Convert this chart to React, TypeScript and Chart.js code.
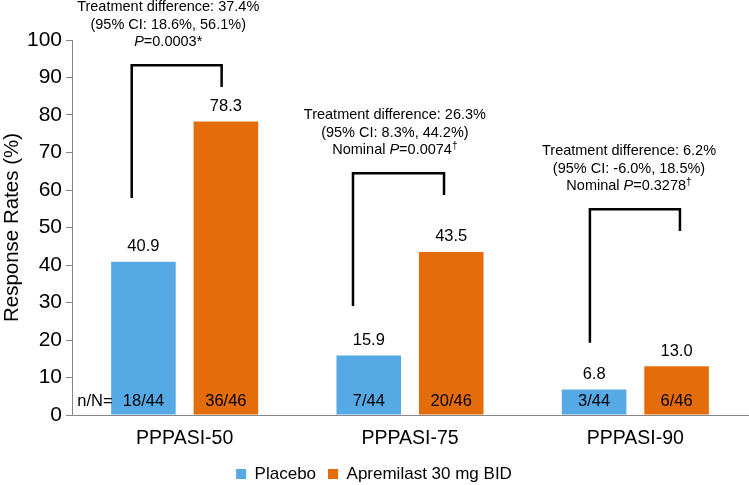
import { useEffect, useRef } from 'react';
import { Chart, registerables } from 'chart.js';

Chart.register(...registerables);

const FONT = '"Liberation Sans", Arial, Helvetica, sans-serif';

const categories = ['PPPASI-50', 'PPPASI-75', 'PPPASI-90'];
const seriesNames = ['Placebo', 'Apremilast 30 mg BID'];
const placeboValues = [40.9, 15.9, 6.8];
const apremilastValues = [78.3, 43.5, 13.0];
const placeboCounts = ['18/44', '7/44', '3/44'];
const apremilastCounts = ['36/46', '20/46', '6/46'];
const countsPrefix = 'n/N=';
const yMin = 0;
const yMax = 100;
const yStep = 10;

const diffLines = ['Treatment difference: 37.4%', 'Treatment difference: 26.3%', 'Treatment difference: 6.2%'];
const ciLines = ['(95% CI: 18.6%, 56.1%)', '(95% CI: 8.3%, 44.2%)', '(95% CI: -6.0%, 18.5%)'];
const pPrefix = ['', 'Nominal ', 'Nominal '];
const pValues = ['=0.0003*', '=0.0074', '=0.3278'];
const pMarks = ['', '\u2020', '\u2020'];

// bracket geometry in axis units (value axis) and category offsets
const bracketTop = [93.3, 64.5, 54.9];
const bracketLeftEnd = [57.9, 29.1, 19.3];
const bracketRightEnd = [87.5, 58.7, 49.1];
const bracketLeftX = [-0.235, -0.253, -0.2016];
const bracketRightX = [0.164, 0.151, 0.198];
const noteX = [-0.073, -0.067, -0.028];

const placeboColor = '#55A9E4';
const apremilastColor = '#E46C0A';

type Seg = { text: string; italic?: boolean; sup?: boolean };

function drawSegments(ctx: CanvasRenderingContext2D, segs: Seg[], cx: number, cy: number, size: number) {
  const fontFor = (s: Seg) => `${s.italic ? 'italic ' : ''}${s.sup ? size * 0.7 : size}px ${FONT}`;
  let total = 0;
  for (const s of segs) {
    ctx.font = fontFor(s);
    total += ctx.measureText(s.text).width;
  }
  let x = cx - total / 2;
  ctx.textAlign = 'left';
  ctx.textBaseline = 'middle';
  for (const s of segs) {
    ctx.font = fontFor(s);
    ctx.fillText(s.text, x, s.sup ? cy - size * 0.3 : cy);
    x += ctx.measureText(s.text).width;
  }
}

const annotationPlugin = {
  id: 'annotations',
  afterDatasetsDraw(chart: any) {
    const ctx: CanvasRenderingContext2D = chart.ctx;
    const xs = chart.scales.x;
    const ys = chart.scales.y;
    const catW = xs.getPixelForValue(1) - xs.getPixelForValue(0);
    ctx.save();
    ctx.fillStyle = '#000';

    // brackets and notes
    categories.forEach((_, i) => {
      const c = xs.getPixelForValue(i);
      const lx = c + bracketLeftX[i] * catW;
      const rx = c + bracketRightX[i] * catW;
      const ty = ys.getPixelForValue(bracketTop[i]);
      ctx.beginPath();
      ctx.lineWidth = 2.5;
      ctx.strokeStyle = '#000';
      ctx.lineJoin = 'miter';
      ctx.moveTo(lx, ys.getPixelForValue(bracketLeftEnd[i]));
      ctx.lineTo(lx, ty);
      ctx.lineTo(rx, ty);
      ctx.lineTo(rx, ys.getPixelForValue(bracketRightEnd[i]));
      ctx.stroke();

      const tx = c + noteX[i] * catW;
      const size = 14.5;
      drawSegments(ctx, [{ text: diffLines[i] }], tx, ty - 58, size);
      drawSegments(ctx, [{ text: ciLines[i] }], tx, ty - 40.5, size);
      const segs: Seg[] = [];
      if (pPrefix[i]) segs.push({ text: pPrefix[i] });
      segs.push({ text: 'P', italic: true });
      segs.push({ text: pValues[i] });
      if (pMarks[i]) segs.push({ text: pMarks[i], sup: true });
      drawSegments(ctx, segs, tx, ty - 23, size);
    });

    // value labels and counts
    const counts = [placeboCounts, apremilastCounts];
    const zeroY = ys.getPixelForValue(0);
    chart.data.datasets.forEach((ds: any, di: number) => {
      const meta = chart.getDatasetMeta(di);
      meta.data.forEach((bar: any, i: number) => {
        ctx.font = `16.5px ${FONT}`;
        ctx.textAlign = 'center';
        ctx.textBaseline = 'middle';
        ctx.fillText(Number(ds.data[i]).toFixed(1), bar.x, bar.y - 15);
        ctx.fillText(counts[di][i], bar.x, zeroY - 14);
      });
    });
    const first = chart.getDatasetMeta(0).data[0];
    ctx.font = `16.5px ${FONT}`;
    ctx.textAlign = 'right';
    ctx.textBaseline = 'middle';
    ctx.fillText(countsPrefix, first.x - first.width / 2 + 1.5, zeroY - 14);
    ctx.restore();
  },
};

export default function App() {
  const ref = useRef<HTMLCanvasElement>(null);
  useEffect(() => {
    if (!ref.current) return;
    const chart = new Chart(ref.current, {
      type: 'bar',
      data: {
        labels: categories,
        datasets: [
          {
            label: seriesNames[0],
            data: placeboValues,
            backgroundColor: placeboColor,
            borderWidth: 0,
            categoryPercentage: 0.732,
            barPercentage: 0.783,
          },
          {
            label: seriesNames[1],
            data: apremilastValues,
            backgroundColor: apremilastColor,
            borderWidth: 0,
            categoryPercentage: 0.732,
            barPercentage: 0.783,
          },
        ],
      },
      options: {
        responsive: false,
        animation: false,
        layout: { padding: { top: 40, right: 1, bottom: -7.5, left: 0 } },
        plugins: {
          legend: {
            position: 'bottom',
            labels: {
              boxWidth: 10,
              boxHeight: 10,
              padding: 12,
              color: '#000',
              font: { size: 17, family: FONT },
            },
          },
          tooltip: { enabled: false },
        },
        scales: {
          x: {
            grid: { display: false, drawTicks: false },
            border: { display: true, color: '#868686', width: 1 },
            ticks: { color: '#000', padding: 12, font: { size: 19.5, family: FONT } },
            afterFit: (s: any) => {
              s.height = 38.5;
            },
          },
          y: {
            min: yMin,
            max: yMax,
            ticks: { stepSize: yStep, color: '#000', padding: 4, font: { size: 21, family: FONT } },
            grid: { drawOnChartArea: false, drawTicks: true, tickLength: 6, color: '#868686' },
            border: { display: true, color: '#868686', width: 1 },
            title: {
              display: true,
              text: 'Response Rates (%)',
              color: '#000',
              font: { size: 20.5, family: FONT, lineHeight: 1.1 },
              padding: { top: 1, bottom: 0 },
            },
            afterFit: (s: any) => {
              s.width = 72;
            },
          },
        },
      },
      plugins: [annotationPlugin],
    });
    return () => chart.destroy();
  }, []);
  return (
    <div style={{ position: 'fixed', left: 0, top: 0, width: 749, height: 485, background: '#fff' }}>
      <canvas ref={ref} width={749} height={485} style={{ display: 'block' }} />
    </div>
  );
}
